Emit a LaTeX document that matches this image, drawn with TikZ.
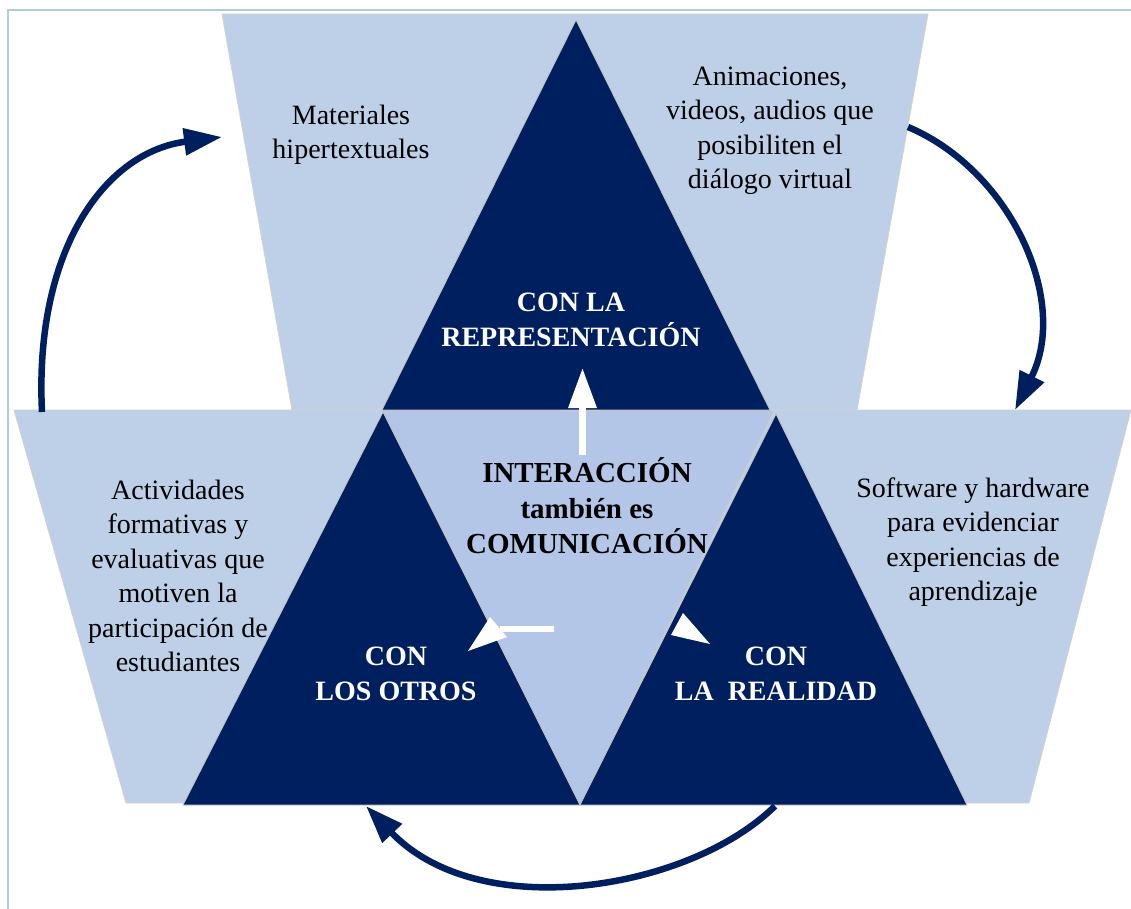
\documentclass[tikz,border=0pt]{standalone}
\usepackage{fontspec}
\setmainfont{Liberation Serif}
\usetikzlibrary{arrows.meta}
\definecolor{navy}{HTML}{001F5F}
\definecolor{paleblue}{HTML}{BDD0E8}
\definecolor{innerblue}{HTML}{B4C6E7}
\definecolor{framec}{HTML}{B4C7E7}
\tikzset{
  trap/.style={fill=paleblue, draw=gray!35, line width=0.8pt},
  darktri/.style={fill=navy, draw=gray!45, line width=0.8pt},
  innertri/.style={fill=innerblue, draw=gray!45, line width=0.8pt},
  bodytext/.style={align=center, font=\fontsize{28}{34.5}\selectfont, text=black, inner sep=0pt},
  whitetext/.style={align=center, font=\fontsize{28}{34.5}\selectfont\bfseries, text=white, inner sep=0pt},
  centertext/.style={align=center, font=\fontsize{29}{35.5}\selectfont\bfseries, text=black, inner sep=0pt},
  cyclearrow/.style={draw=navy, line width=6.5pt, -{Triangle[length=38pt,width=26pt]}},
  whitearrow/.style={draw=white, line width=6.5pt, -{Triangle[length=40pt,width=27pt]}}
}
\begin{document}
\begin{tikzpicture}[x=1pt,y=-1pt]
\useasboundingbox (0,0) rectangle (1131,909);
% frame
\draw[framec, line width=1.6pt] (8,909) -- (8,10) -- (1131,10);
% trapezoids
\path[trap] (222,14) -- (928,14) -- (857,410) -- (292,410) -- cycle;
\path[trap] (14,410) -- (560,410) -- (560,803) -- (126,803) -- cycle;
\path[trap] (600,410) -- (1131,410) -- (1029,803) -- (600,803) -- cycle;
% side texts (under triangles)
\node[bodytext] (mat) at (351,135) {Materiales\\hipertextuales};
\node[bodytext] (ani) at (770,131) {Animaciones,\\videos, audios que\\posibiliten el\\diálogo virtual};
\node[bodytext] (act) at (178,576) {Actividades\\formativas y\\evaluativas que\\motiven la\\participación de\\estudiantes};
\node[bodytext] (sof) at (973,542) {Software y hardware\\para evidenciar\\experiencias de\\aprendizaje};
% dark top triangle
\path[darktri] (576,20) -- (770,410) -- (382,410) -- cycle;
% inner triangle
\path[innertri] (383,411) -- (773,411) -- (580,805) -- cycle;
% dark bottom triangles
\path[darktri] (383,412) -- (580,805) -- (183,805) -- cycle;
\path[darktri] (776,414) -- (967,805) -- (580,805) -- cycle;
% labels
\node[whitetext] (rep) at (571,320) {CON LA\\REPRESENTACIÓN};
\node[whitetext] (otr) at (396,674) {CON\\LOS OTROS};
\node[whitetext] (rea) at (776,674) {CON\\LA\ \ REALIDAD};
\node[centertext] (int) at (587,506) {INTERACCIÓN\\también es\\COMUNICACIÓN};
% white arrows
\coordinate (upS) at (582.5,455);
\coordinate (upE) at (582.5,368);
\draw[whitearrow] (upS) -- (upE);
\coordinate (lS) at (554,629);
\coordinate (lM) at (500,629);
\draw[white, line width=6.5pt] (lS) -- (lM);
\fill[white] (468,651) -- (490,617) -- (507,637) -- cycle;
\fill[white] (710,644) -- (671,635) -- (683,613) -- cycle;
% cycle arrows
\coordinate (a1s) at (42,412);
\coordinate (a1e) at (222,137);
\draw[cyclearrow] (a1s) .. controls (34,250) and (105,152) .. (a1e);
\coordinate (a2s) at (908,127);
\coordinate (a2e) at (1015,410);
\draw[cyclearrow] (a2s) .. controls (1010,170) and (1070,300) .. (a2e);
\coordinate (a3s) at (775,806);
\coordinate (a3e) at (366,806);
\draw[cyclearrow] (a3s) .. controls (690,890) and (480,925) .. (a3e);
\end{tikzpicture}
\end{document}
